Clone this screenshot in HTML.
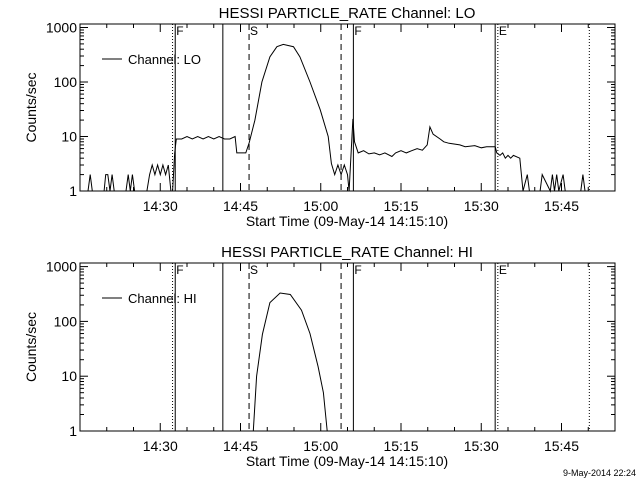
<!DOCTYPE html>
<html><head><meta charset="utf-8"><style>
html,body{margin:0;padding:0;background:#fff;}
svg{display:block;font-family:"Liberation Sans",sans-serif;}
</style></head><body>
<svg id="chart" width="640" height="480" viewBox="0 0 640 480"></svg>
<script>
// ---- data (minutes after 14:15) ----
const loTimes = [
0,1.5,1.9,2.3,4.5,4.8,5.2,5.6,6.0,6.4,
8.6,9.0,9.4,9.8,10.2,12.5,13,13.5,14,14.5,
15,15.5,16,16.5,17.0,17.3,17.7,18,19,20,
21,22,23,24,25,26,27,28,29,29.3,
30,31,31.6,32.7,34,35.5,36.8,38,39.9,41.1,
43,44.9,46.4,47,47.6,48.2,48.8,49.4,50,50.3,
51,51.3,52,53,54,55,56,57,58.3,59,
60,61,62,63,64,64.9,65.4,66,67.3,68,
69,71,72,73.8,75,76,77.6,77.9,78.5,79,
79.5,80,80.5,81,82.2,82.8,83.6,84,86,86.4,
87.9,88.3,88.7,89.1,89.5,90.3,90.7,93.6,94,94.4,
100];
const loValues = [
1,1,2,1,1,2,2,1,2,1,
1,2,1,2,1,1,2,3,2,3,
2,3,2,3,1,1,5,9,9,10,
9,10,9,10,9,10,9,9,10,5,
5,5,7.6,20,100,290,445,490,445,290,
100,31,10,3.2,2,3,2,3,2,1,
21,8,5,5.5,4.8,5,4.6,5,4.3,5,
5.5,5,5.5,6,5.6,7,15,11,9,8,
7.5,7,6.5,6.8,6.2,6.5,6.5,5,4.5,5,
4,4.5,4,4.5,4,1,2,1,1,2,
1,2,1,2,1,2,1,1,2,1,
1];
const hiTimes = [32.4,33.0,34.1,35.5,37.4,39.3,41.4,43.0,44.5,45.5,46.2];
const hiValues = [1,10,58,220,330,310,160,60,15,5,1];
const xTickLabels = ["14:30","14:45","15:00","15:15","15:30","15:45"];
const xTickMinutes = [15,30,45,60,75,90];
const yTickLabels = ["1","10","100","1000"];
const yTickValues = [1,10,100,1000];
const markerTimes = [17.3,17.8,26.7,31.6,48.8,51.1,77.6,78.1,95.2];
const markerStyles = ["dot","solid","solid","dash","dash","solid","solid","dot","dot"];
const markerLabels = ["","F","","S","","F","","E",""];

const NS="http://www.w3.org/2000/svg";
const svg=document.getElementById('chart');
const X0=80,X1=615,TMAX=100;
function xs(t){return X0+(t/TMAX)*(X1-X0);}
function mk(tag,attrs,parent){const e=document.createElementNS(NS,tag);for(const k in attrs)e.setAttribute(k,attrs[k]);(parent||svg).appendChild(e);return e;}

function panel(top,bottom,oneY,decade,title,legend,times,values,key){
  const g=mk('g',{});
  
  
  const ys=v=>oneY-Math.log10(Math.max(v,1))*decade;
  const t=mk('text',{x:347,y:top-6,'text-anchor':'middle','font-size':'15'},g);
  t.textContent=title;
  
  
  const box=mk('rect',{x:X0,y:top,width:X1-X0,height:bottom-top,fill:'none',stroke:'#000','stroke-width':1},g);
  
  
  for(let m=5;m<TMAX;m+=5){
    const x=xs(m);const L=(m%15===0)?8:4;
    mk('line',{x1:x,y1:bottom,x2:x,y2:bottom-L,stroke:'#000'},g);
    mk('line',{x1:x,y1:top,x2:x,y2:top+L,stroke:'#000'},g);
  }
  for(let i=0;i<xTickLabels.length;i++){
    const tl=mk('text',{x:xs(xTickMinutes[i]),y:bottom+20,'text-anchor':'middle','font-size':'14'},g);
    tl.textContent=xTickLabels[i];
    
    
  }
  const xt=mk('text',{x:347,y:bottom+35,'text-anchor':'middle','font-size':'14'},g);
  xt.textContent="Start Time (09-May-14 14:15:10)";
  
  
  for(let d=0;d<4;d++){
    for(let k=1;k<10;k++){
      const v=Math.pow(10,d)*k;const y=ys(v);
      if(y<top)continue;
      const L=(k===1)?8:4;
      mk('line',{x1:X0,y1:y,x2:X0+L,y2:y,stroke:'#000'},g);
      mk('line',{x1:X1,y1:y,x2:X1-L,y2:y,stroke:'#000'},g);
    }
  }
  for(let i=0;i<yTickLabels.length;i++){
    const yl=mk('text',{x:X0-3,y:ys(yTickValues[i])+5,'text-anchor':'end','font-size':'14'},g);
    yl.textContent=yTickLabels[i];
    
    
  }
  const cy=(top+bottom)/2;
  const ya=mk('text',{x:36,y:cy,'text-anchor':'middle','font-size':'14',transform:'rotate(-90 36 '+cy+')'},g);
  ya.textContent="Counts/sec";
  
  
  for(let i=0;i<markerTimes.length;i++){
    const x=xs(markerTimes[i]);const st=markerStyles[i];
    const ln=mk('line',{x1:x,y1:top,x2:x,y2:bottom,stroke:'#000','stroke-width':1,'stroke-dasharray':st==='dash'?'6,4':(st==='dot'?'1,2':'none')},g);
    
    
    if(markerLabels[i]){
      const ml=mk('text',{x:x+1,y:top+11,'font-size':'12'},g);
      ml.textContent=markerLabels[i];
      
      
    }
  }
  const pts=times.map((tt,i)=>xs(tt).toFixed(1)+','+ys(values[i]).toFixed(1)).join(' ');
  const pl=mk('polyline',{points:pts,fill:'none',stroke:'#000','stroke-width':1},g);
  
  
  const ly=top+35;
  const lg=mk('g',{},g);
  
  
  mk('line',{x1:102,y1:ly,x2:122,y2:ly,stroke:'#000'},lg);
  const lt=mk('text',{x:128,y:ly+5,'font-size':'13'},lg);
  lt.textContent=legend;
}
panel(24,191,191,54.5,"HESSI PARTICLE_RATE Channel: LO","Channel: LO",loTimes,loValues,'lo');
panel(263,431,431,54.8,"HESSI PARTICLE_RATE Channel: HI","Channel: HI",hiTimes,hiValues,'hi');
const ts=mk('text',{x:636,y:476,'text-anchor':'end','font-size':'9'});
ts.textContent="9-May-2014 22:24";


</script>
</body></html>
